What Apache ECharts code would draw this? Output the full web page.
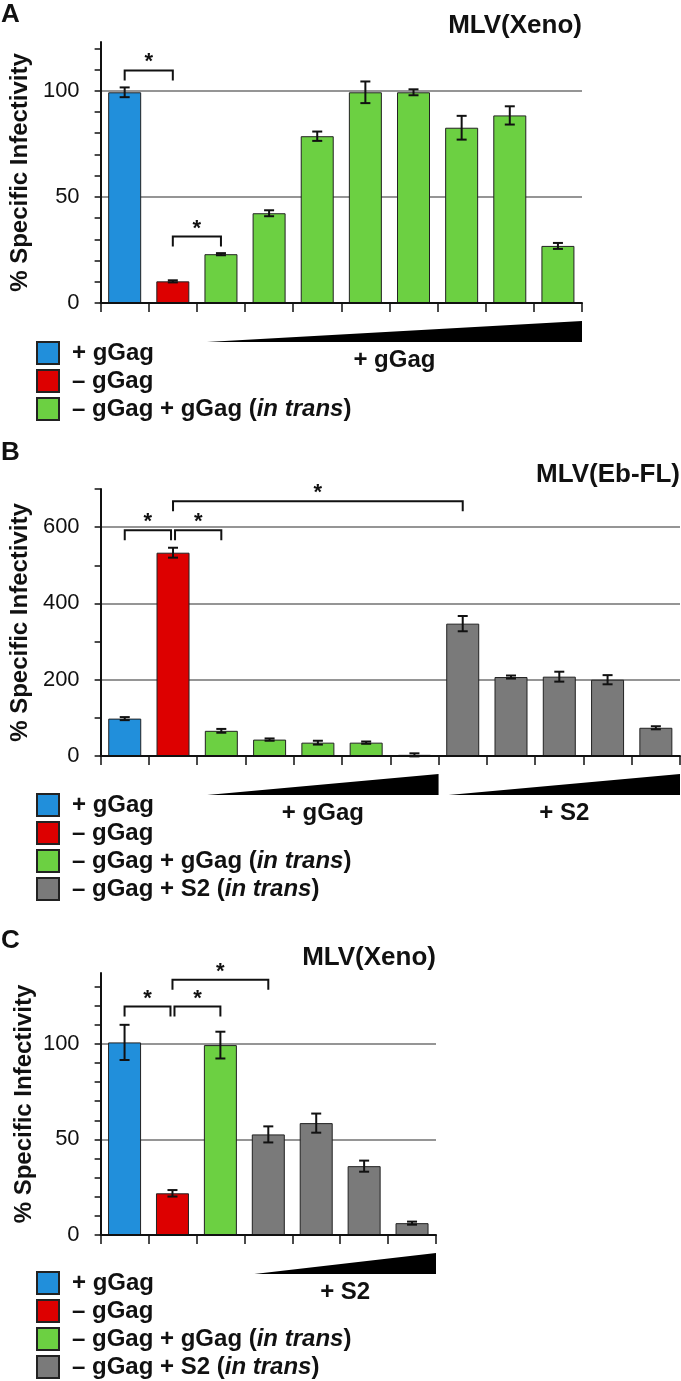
<!DOCTYPE html>
<html><head><meta charset="utf-8">
<script src="https://cdn.jsdelivr.net/npm/echarts@6/dist/echarts.min.js"></script>
<style>html,body{margin:0;padding:0;background:#fff}#c{width:681px;height:1381px}</style>
</head><body><div id="c"></div>
<script>
// ---------- shared ----------
const groupNames = ['+ gGag', '– gGag', '– gGag + gGag (in trans)', '– gGag + S2 (in trans)'];
const groupColors = ['#218FDB', '#DD0000', '#6CD042', '#7A7A7A'];
const yAxisTitle = '% Specific Infectivity';

// ---------- panel A ----------
const letterA = 'A';
const titleA = 'MLV(Xeno)';
const catsA = ['wt', 'ko', 'g1', 'g2', 'g3', 'g4', 'g5', 'g6', 'g7', 'g8'];
const valsA = [99.3, 10.2, 23.0, 42.3, 78.6, 99.3, 99.3, 82.6, 88.4, 26.9];
const errA = [2.3, 0.5, 0.5, 1.4, 2.2, 5.1, 1.4, 5.6, 4.3, 1.4];
const groupsA = [0, 1, 2, 2, 2, 2, 2, 2, 2, 2];
const yMaxA = 123;
const yTicksA = [0, 10, 20, 30, 40, 50, 60, 70, 80, 90, 100, 110, 120];
const yLabelsA = [0, 50, 100];
const bracketsA = [[0, 1, 109.6], [1, 2, 31.3]];
const rampsA = [[2, 9, '+ gGag']];
const legendA = [0, 1, 2];

// ---------- panel B ----------
const letterB = 'B';
const titleB = 'MLV(Eb-FL)';
const catsB = ['wt', 'ko', 'g1', 'g2', 'g3', 'g4', 'g5', 's1', 's2', 's3', 's4', 's5'];
const valsB = [98, 533, 66, 43, 35, 35, 3, 347, 207, 208, 200, 74];
const errB = [4, 13, 5, 3, 5, 3, 4, 20, 4, 13, 12, 4];
const groupsB = [0, 1, 2, 2, 2, 2, 2, 3, 3, 3, 3, 3];
const yMaxB = 700;
const yTicksB = [0, 100, 200, 300, 400, 500, 600, 700];
const yLabelsB = [0, 200, 400, 600];
const bracketsB = [[0, 1, 592], [1, 2, 592], [1, 7, 668]];
const rampsB = [[2, 6, '+ gGag'], [7, 11, '+ S2']];
const legendB = [0, 1, 2, 3];

// ---------- panel C ----------
const letterC = 'C';
const titleC = 'MLV(Xeno)';
const catsC = ['wt', 'ko', 'g1', 's1', 's2', 's3', 's4'];
const valsC = [100.7, 21.8, 99.3, 52.6, 58.5, 36.0, 6.2];
const errC = [9.2, 1.7, 7.0, 4.2, 5.0, 2.9, 0.8];
const groupsC = [0, 1, 2, 3, 3, 3, 3];
const yMaxC = 137;
const yTicksC = [0, 10, 20, 30, 40, 50, 60, 70, 80, 90, 100, 110, 120, 130];
const yLabelsC = [0, 50, 100];
const bracketsC = [[0, 1, 119.5], [1, 2, 119.5], [1, 3, 133.5]];
const rampsC = [[3, 6, '+ S2']];
const legendC = [0, 1, 2, 3];

// ---------- layout (positions & styles) ----------
const FONT = '"Liberation Sans", Arial, Helvetica, sans-serif';
const INK = '#111';
const panels = [
  { letter: letterA, title: titleA, cats: catsA, vals: valsA, err: errA, groups: groupsA, max: yMaxA, interval: 50,
    ticks: yTicksA, labels: yLabelsA, brackets: bracketsA, ramps: rampsA, legend: legendA,
    grid: { left: 93, top: 42, width: 489, height: 261 }, letterTop: 2, titleTop: 13, titleRight: 99, legendTop: 341 },
  { letter: letterB, title: titleB, cats: catsB, vals: valsB, err: errB, groups: groupsB, max: yMaxB, interval: 200,
    ticks: yTicksB, labels: yLabelsB, brackets: bracketsB, ramps: rampsB, legend: legendB,
    grid: { left: 93, top: 489, width: 587, height: 267 }, letterTop: 440, titleTop: 462, titleRight: 1, legendTop: 793 },
  { letter: letterC, title: titleC, cats: catsC, vals: valsC, err: errC, groups: groupsC, max: yMaxC, interval: 50,
    ticks: yTicksC, labels: yLabelsC, brackets: bracketsC, ramps: rampsC, legend: legendC,
    grid: { left: 93, top: 973, width: 343, height: 262 }, letterTop: 928, titleTop: 945, titleRight: 245, legendTop: 1271 }
];

const option = {
  animation: false,
  backgroundColor: '#fff',
  title: [], grid: [], xAxis: [], yAxis: [], series: [], legend: []
};

panels.forEach((p, pi) => {
  const yi = 2 * pi; // main value axis of this panel; yi+1 carries only the gridlines
  option.title.push({ text: p.letter, left: 1, top: p.letterTop, padding: 0,
    textStyle: { fontFamily: FONT, fontWeight: 'bold', fontSize: 26, color: INK } });
  option.title.push({ text: p.title, right: p.titleRight, top: p.titleTop, padding: 0,
    textStyle: { fontFamily: FONT, fontWeight: 'bold', fontSize: 26, color: INK } });
  option.grid.push(Object.assign({ containLabel: false }, p.grid));
  option.xAxis.push({
    type: 'category', gridIndex: pi, data: p.cats, boundaryGap: true, z: 3,
    axisLine: { show: true, lineStyle: { color: INK, width: 2 } },
    axisTick: { show: true, interval: 0, length: 9, lineStyle: { color: INK, width: 1.5 } },
    axisLabel: { show: false }, splitLine: { show: false }
  });
  option.yAxis.push({
    type: 'value', gridIndex: pi, min: 0, max: p.max, interval: p.interval, position: 'left', z: 3,
    name: yAxisTitle, nameLocation: 'middle', nameRotate: 90, nameGap: 64,
    nameTextStyle: { fontFamily: FONT, fontWeight: 'bold', fontSize: 24, color: INK },
    axisLine: { show: true, lineStyle: { color: INK, width: 2 } },
    axisTick: { show: true, customValues: p.ticks, length: 6, lineStyle: { color: INK, width: 1.5 } },
    axisLabel: { show: true, customValues: p.labels, margin: 21, fontFamily: FONT, fontSize: 22, color: INK },
    splitLine: { show: false }
  });
  option.yAxis.push({
    type: 'value', gridIndex: pi, min: 0, max: p.max, interval: p.interval, position: 'right',
    axisLine: { show: false }, axisTick: { show: false }, axisLabel: { show: false },
    splitLine: { show: true, showMinLine: false, showMaxLine: false, lineStyle: { color: '#959595', width: 2 } }
  });
  // bars, one series per colour group, overlaid via a shared stack
  const used = [...new Set(p.groups)];
  used.forEach(g => {
    option.series.push({
      type: 'bar', name: groupNames[g], xAxisIndex: pi, yAxisIndex: yi, stack: 'p' + pi,
      barWidth: 33,
      data: p.vals.map((v, i) => p.groups[i] === g ? v : '-'),
      itemStyle: { color: groupColors[g], borderColor: '#222', borderWidth: 1 }
    });
  });
  // error bars
  option.series.push({
    type: 'custom', name: 'err' + pi, xAxisIndex: pi, yAxisIndex: yi, z: 5,
    encode: { x: 0, y: 1 },
    data: p.vals.map((v, i) => [i, v, p.err[i]]),
    renderItem: (params, api) => {
      const x = api.value(0), v = api.value(1), e = api.value(2);
      const hi = api.coord([x, v + e]), lo = api.coord([x, v - e]);
      const c = 5, st = { stroke: INK, lineWidth: 2 };
      return { type: 'group', children: [
        { type: 'line', shape: { x1: hi[0], y1: hi[1], x2: lo[0], y2: lo[1] }, style: st },
        { type: 'line', shape: { x1: hi[0] - c, y1: hi[1], x2: hi[0] + c, y2: hi[1] }, style: st },
        { type: 'line', shape: { x1: lo[0] - c, y1: lo[1], x2: lo[0] + c, y2: lo[1] }, style: st }
      ] };
    }
  });
  // significance brackets
  const br = p.brackets;
  option.series.push({
    type: 'custom', name: 'sig' + pi, xAxisIndex: pi, yAxisIndex: yi, z: 6, clip: false,
    encode: { x: 0, y: 2 },
    data: br.map(b => [b[0], b[1], b[2]]),
    renderItem: (params, api) => {
      const a = api.value(0), b = api.value(1), yv = api.value(2);
      const shareL = br.some((o, k) => k !== params.dataIndex && o[2] === yv && o[1] === a);
      const shareR = br.some((o, k) => k !== params.dataIndex && o[2] === yv && o[0] === b);
      const pa = api.coord([a, yv]), pb = api.coord([b, yv]);
      const x1 = pa[0] + (shareL ? 2 : 0), x2 = pb[0] - (shareR ? 2 : 0), y = pa[1];
      const st = { stroke: INK, lineWidth: 2, fill: null };
      return { type: 'group', children: [
        { type: 'polyline', shape: { points: [[x1, y + 10], [x1, y], [x2, y], [x2, y + 10]] }, style: st },
        { type: 'text', style: { text: '*', x: (x1 + x2) / 2, y: y - 8, align: 'center', verticalAlign: 'middle',
          font: 'bold 22px ' + FONT, fill: INK } }
      ] };
    }
  });
  // dose ramps (triangles) with their labels
  const rp = p.ramps;
  option.series.push({
    type: 'custom', name: 'ramp' + pi, xAxisIndex: pi, yAxisIndex: yi, z: 6, clip: false,
    encode: { x: 0, y: 1 },
    data: rp.map(r => [r[0], r[1]]),
    renderItem: (params, api) => {
      const s = api.value(0), e = api.value(1);
      const bw = api.size([1, 0])[0];
      const ps = api.coord([s, 0]), pe = api.coord([e, 0]);
      const xl = ps[0] - bw / 2 + 10, xr = pe[0] + bw / 2, y0 = ps[1];
      return { type: 'group', children: [
        { type: 'polygon', shape: { points: [[xl, y0 + 39], [xr, y0 + 18], [xr, y0 + 39]] }, style: { fill: '#000' } },
        { type: 'text', style: { text: rp[params.dataIndex][2], x: (xl + xr) / 2, y: y0 + 57, align: 'center',
          verticalAlign: 'middle', font: 'bold 24px ' + FONT, fill: INK } }
      ] };
    }
  });
  option.legend.push({
    data: p.legend.map(g => groupNames[g]), orient: 'vertical', left: 36, top: p.legendTop, padding: 0,
    itemWidth: 22, itemHeight: 22, itemGap: 4, icon: 'rect', selectedMode: false,
    formatter: n => n.replace('in trans', '{i|in trans}'),
    textStyle: { fontFamily: FONT, fontWeight: 'bold', fontSize: 24, color: INK, padding: [0, 0, 0, 8],
      rich: { i: { fontFamily: FONT, fontWeight: 'bold', fontStyle: 'italic', fontSize: 24, color: INK } } }
  });
});

const chart = echarts.init(document.getElementById('c'), null, { renderer: 'canvas', width: 681, height: 1381 });
chart.setOption(option);
</script></body></html>
